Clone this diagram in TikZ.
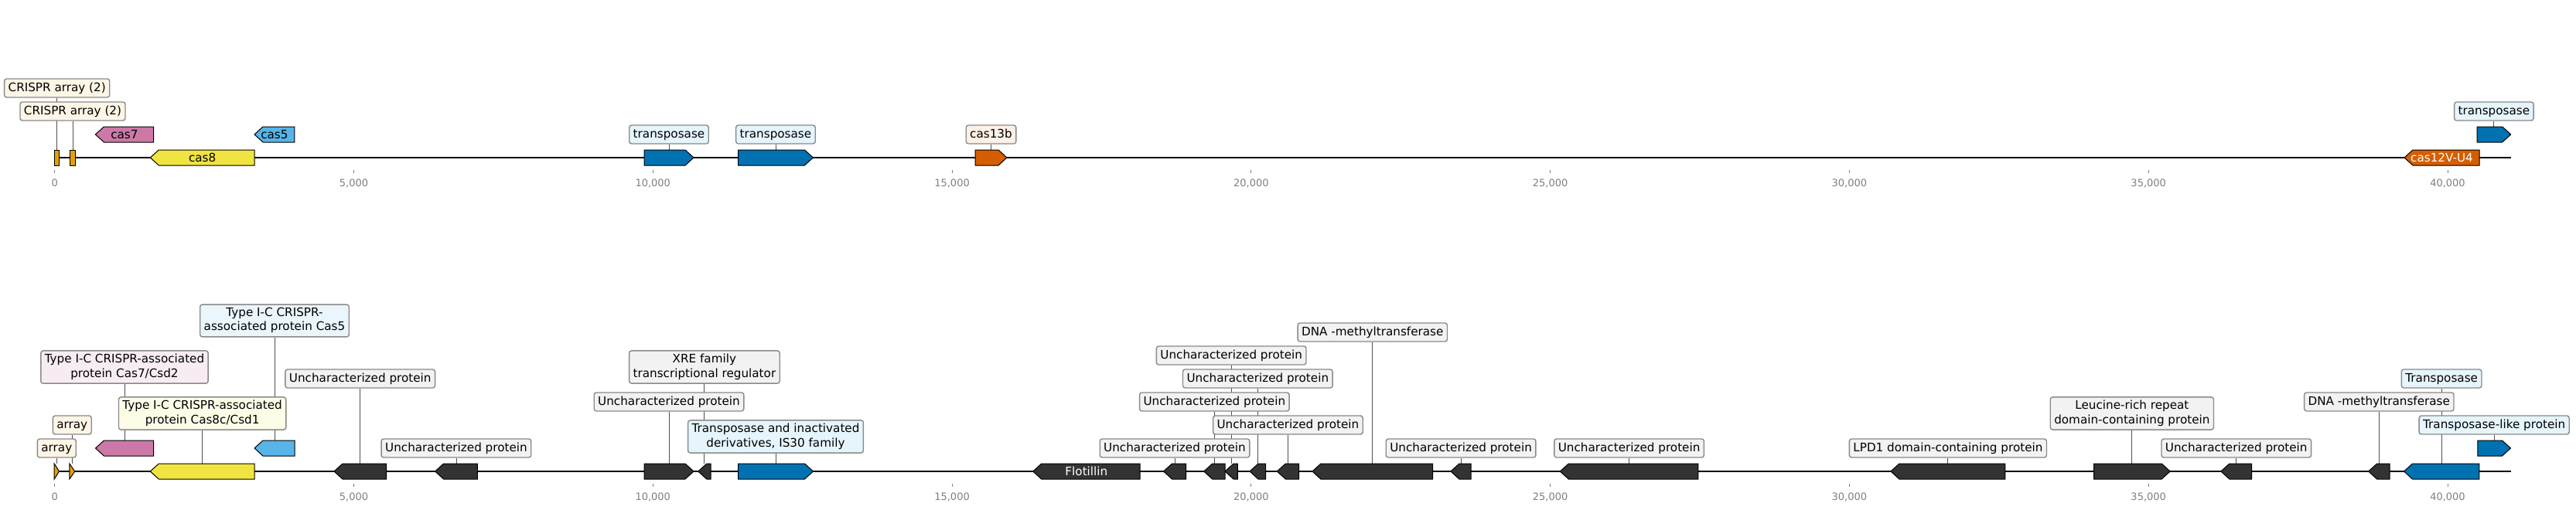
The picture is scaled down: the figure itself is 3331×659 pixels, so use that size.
\documentclass[tikz,border=0pt]{standalone}
\usepackage{fontspec}
\setmainfont{DejaVu Sans}
\usetikzlibrary{calc}
\definecolor{corange}{HTML}{E69F00}
\definecolor{cpink}{HTML}{CC79A7}
\definecolor{cyellow}{HTML}{F0E442}
\definecolor{csky}{HTML}{56B4E9}
\definecolor{cblue}{HTML}{0072B2}
\definecolor{cverm}{HTML}{D55E00}
\definecolor{cdark}{HTML}{333333}
\definecolor{forange}{HTML}{FDF5E6}
\definecolor{fpink}{HTML}{F7ECF2}
\definecolor{fyellow}{HTML}{FDFCE7}
\definecolor{fsky}{HTML}{EAF5FC}
\definecolor{fblue}{HTML}{E6F4FC}
\definecolor{fverm}{HTML}{FDF0E6}
\definecolor{fgray}{HTML}{F2F2F2}
\definecolor{lblborder}{HTML}{8A8A8A}
\definecolor{leadcol}{HTML}{505050}
\definecolor{tickcol}{HTML}{808080}
\pgfdeclarelayer{back}
\pgfdeclarelayer{bg}
\pgfsetlayers{back,bg,main}
\newcommand\lstrut{\rule[-3.6pt]{0pt}{15.2pt}}
\tikzset{
  genestyle/.style={draw=black, line width=1pt, line join=miter},
  lbl/.style={draw=lblborder, line width=1.4pt, rounded corners=3pt, inner xsep=5pt, inner ysep=4.4pt,
    align=center, font=\fontsize{15.2}{18.2}\selectfont, execute at begin node=\lstrut,
    execute at end node=\lstrut, text=black},
  leader/.style={draw=leadcol, line width=0.9pt},
  gtxt/.style={font=\fontsize{15.2}{18.2}\selectfont, inner sep=0pt, anchor=base},
  ticklbl/.style={font=\fontsize{13}{15}\selectfont, text=tickcol, anchor=base, inner sep=0pt},
  tickmark/.style={draw=tickcol, line width=1pt},
  dnaline/.style={line width=2.2pt, draw=black},
}
% right-pointing gene: name, x1, x2, ycenter, colour
\newcommand\gR[5]{%
  \pgfmathsetmacro\gx{#3-min(11,#3-#2)}%
  \draw[genestyle,fill=#5] (#2,#4-10) -- (\gx,#4-10) -- (#3,#4) -- (\gx,#4+10) -- (#2,#4+10) -- cycle;%
  \coordinate (#1) at ({(#2+#3)/2},#4-10);}
% left-pointing gene
\newcommand\gL[5]{%
  \pgfmathsetmacro\gx{#2+min(11,#3-#2)}%
  \draw[genestyle,fill=#5] (#3,#4-10) -- (\gx,#4-10) -- (#2,#4) -- (\gx,#4+10) -- (#3,#4+10) -- cycle;%
  \coordinate (#1) at ({(#2+#3)/2},#4-10);}
% no direction
\newcommand\gN[5]{%
  \draw[genestyle,fill=#5] (#2,#4-10) rectangle (#3,#4+10);%
  \coordinate (#1) at ({(#2+#3)/2},#4-10);}
% text inside a gene: name, gene, colour, text
\newcommand\gtext[4]{\node[gtxt,text=#3] (#1) at ($(#2)+(0,15.5)$) {#4};}
% label: fill, name, gene, ycenter, text
\newcommand\lab[5]{%
  \node[lbl,fill=#1] (#2) at (#3 |- 0,#4) {#5};%
  \begin{pgfonlayer}{bg}\draw[leader] (#2.south) -- (#3);\end{pgfonlayer}}
\begin{document}
\begin{tikzpicture}[x=1pt,y=-1pt]
\useasboundingbox (0,0) rectangle (3331,659);
\begin{pgfonlayer}{back}
  \fill[white] (0,0) rectangle (3331,659);
\end{pgfonlayer}
% backbone lines and axes
\begin{pgfonlayer}{bg}
  \coordinate (topS) at (70.7,204);
  \coordinate (topE) at (3246.7,204);
  \coordinate (botS) at (70.2,610);
  \coordinate (botE) at (3246.5,610);
  \draw[dnaline] (topS) -- (topE);
  \draw[dnaline] (botS) -- (botE);
  \foreach \yy/\nm in {0/t,406/b}{
    \draw[tickmark] (70.7,220+\yy) -- (70.7,224+\yy);
    \node[ticklbl] (\nm tick0) at (70.7,241.5+\yy) {0};
    \foreach \k in {1,...,8}{
      \pgfmathtruncatemacro\v{\k*5}
      \pgfmathsetmacro\xx{70.7+\k*386.785}
      \draw[tickmark] (\xx,220+\yy) -- (\xx,224+\yy);
      \node[ticklbl] (\nm tick\k) at (\xx,241.5+\yy) {\v,000};
    }
  }
\end{pgfonlayer}
% ---------------- top track ----------------
\gN{ta1}{70.7}{76.7}{204}{corange}
\gN{ta2}{90.7}{97.3}{204}{corange}
\gL{tc7}{123.4}{198.5}{174}{cpink}
\gL{tc8}{194.3}{329}{204}{cyellow}
\gL{tc5}{329}{380.8}{174}{csky}
\gR{tt1}{833}{897}{204}{cblue}
\gR{tt2}{954.5}{1051.4}{204}{cblue}
\gR{tc13}{1261}{1302}{204}{cverm}
\gL{tc12}{3109}{3206}{204}{cverm}
\gR{tt3}{3203}{3246.7}{174}{cblue}
\gtext{tc7t}{tc7}{black}{cas7}
\gtext{tc8t}{tc8}{black}{cas8}
\gtext{tc5t}{tc5}{black}{cas5}
\gtext{tc12t}{tc12}{white}{cas12V-U4}
\lab{forange}{la1}{ta1}{114}{CRISPR array (2)}
\lab{forange}{la2}{ta2}{144}{CRISPR array (2)}
\lab{fblue}{lt1}{tt1}{174}{transposase}
\lab{fblue}{lt2}{tt2}{174}{transposase}
\lab{fverm}{lc13}{tc13}{174}{cas13b}
\lab{fblue}{lt3}{tt3}{144}{transposase}
% ---------------- bottom track ----------------
\gR{ba1}{70.2}{76.5}{610}{corange}
\gR{ba2}{89.8}{96.8}{610}{corange}
\gL{bc7}{123.5}{198.5}{580}{cpink}
\gL{bc8}{194.3}{329}{610}{cyellow}
\gL{bc5}{329}{381}{580}{csky}
\gL{b6}{432}{499.5}{610}{cdark}
\gL{b7}{562.6}{617.3}{610}{cdark}
\gR{b8}{833}{897}{610}{cdark}
\gL{b9}{902.8}{919}{610}{cdark}
\gR{b10}{954.5}{1051.5}{610}{cblue}
\gL{b11}{1335.7}{1474}{610}{cdark}
\gL{b12}{1504.5}{1533.5}{610}{cdark}
\gL{b13}{1556.7}{1584}{610}{cdark}
\gL{b14}{1584}{1600.4}{610}{cdark}
\gL{b15}{1616}{1636.6}{610}{cdark}
\gL{b16}{1651.3}{1679.5}{610}{cdark}
\gL{b17}{1696.9}{1852.7}{610}{cdark}
\gL{b18}{1875.9}{1902.2}{610}{cdark}
\gL{b19}{2017.3}{2195.9}{610}{cdark}
\gL{b20}{2444.9}{2592.9}{610}{cdark}
\gR{b21}{2707.5}{2806.2}{610}{cdark}
\gL{b22}{2871.8}{2911.7}{610}{cdark}
\gL{b23}{3062.6}{3090}{610}{cdark}
\gL{b24}{3108.5}{3205.8}{610}{cblue}
\gR{b25}{3203.8}{3246.5}{580}{cblue}
\gtext{b11t}{b11}{white}{Flotillin}
\lab{forange}{lba1}{ba1}{580}{array}
\lab{forange}{lba2}{ba2}{550}{array}
\lab{fpink}{lbc7}{bc7}{475}{Type I-C CRISPR-associated\\protein Cas7/Csd2}
\lab{fyellow}{lbc8}{bc8}{535}{Type I-C CRISPR-associated\\protein Cas8c/Csd1}
\lab{fsky}{lbc5}{bc5}{415}{Type I-C CRISPR-\\associated protein Cas5}
\lab{fgray}{lb6}{b6}{490}{Uncharacterized protein}
\lab{fgray}{lb7}{b7}{580}{Uncharacterized protein}
\lab{fgray}{lb8}{b8}{520}{Uncharacterized protein}
\lab{fgray}{lb9}{b9}{475}{XRE family\\transcriptional regulator}
\lab{fblue}{lb10}{b10}{565}{Transposase and inactivated\\derivatives, IS30 family}
\lab{fgray}{lb12}{b12}{580}{Uncharacterized protein}
\lab{fgray}{lb13}{b13}{520}{Uncharacterized protein}
\lab{fgray}{lb14}{b14}{460}{Uncharacterized protein}
\lab{fgray}{lb15}{b15}{490}{Uncharacterized protein}
\lab{fgray}{lb16}{b16}{550}{Uncharacterized protein}
\lab{fgray}{lb17}{b17}{430}{DNA -methyltransferase}
\lab{fgray}{lb18}{b18}{580}{Uncharacterized protein}
\lab{fgray}{lb19}{b19}{580}{Uncharacterized protein}
\lab{fgray}{lb20}{b20}{580}{LPD1 domain-containing protein}
\lab{fgray}{lb21}{b21}{535}{Leucine-rich repeat\\domain-containing protein}
\lab{fgray}{lb22}{b22}{580}{Uncharacterized protein}
\lab{fgray}{lb23}{b23}{520}{DNA -methyltransferase}
\lab{fblue}{lb24}{b24}{490}{Transposase}
\lab{fblue}{lb25}{b25}{550}{Transposase-like protein}
\end{tikzpicture}
\end{document}
